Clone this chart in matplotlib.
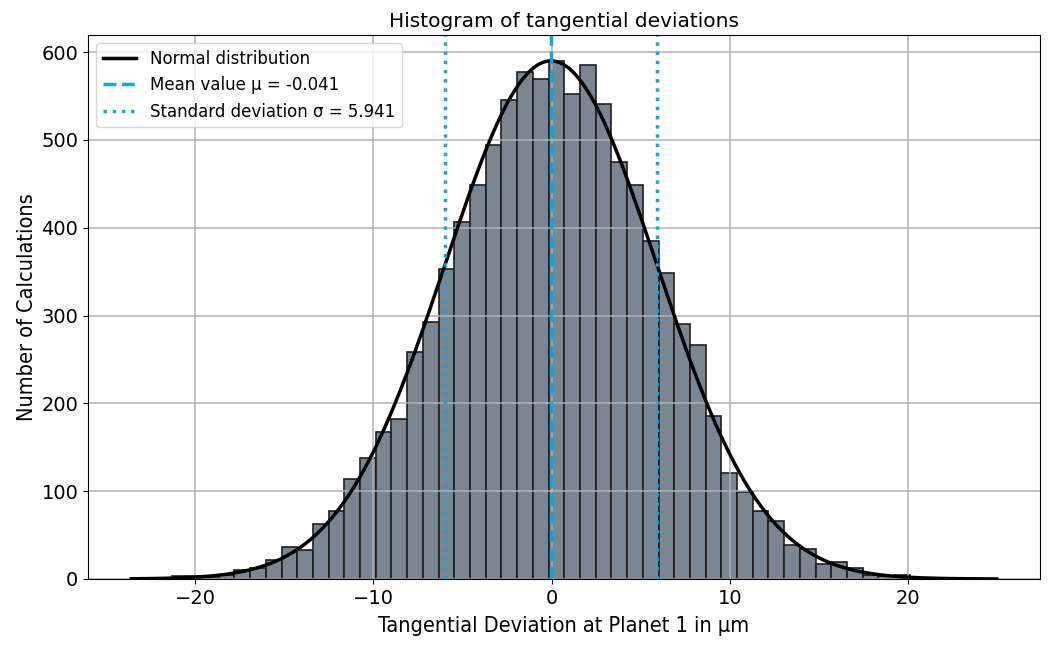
import numpy as np
import matplotlib
matplotlib.use('Agg')
import matplotlib.pyplot as plt

# histogram
bin_first = -21.31
bin_width = 0.8806
counts = [3, 3, 1, 4, 10, 12, 22, 37, 33, 63, 77, 114,
          138, 167, 182, 258, 293, 353, 407, 449, 494, 545, 578, 569,
          590, 552, 585, 541, 475, 449, 385, 349, 290, 266, 186, 121,
          99, 78, 66, 39, 34, 17, 19, 13, 5, 3, 5]

mu = -0.041
sigma = 5.941
curve_range = (-23.57, 24.95)

edges = bin_first + bin_width * np.arange(len(counts) + 1)
n_total = sum(counts)

x = np.linspace(curve_range[0], curve_range[1], 500)
pdf = n_total * bin_width / (sigma * np.sqrt(2 * np.pi)) * np.exp(-0.5 * ((x - mu) / sigma) ** 2)

fig = plt.figure(figsize=(10.49, 6.54), dpi=100)
ax = fig.add_axes([0.0839, 0.1147, 0.9075, 0.8318])

ax.hist(edges[:-1], bins=edges, weights=counts, color='#7a8793',
        edgecolor='#1e1e1e', linewidth=1.2)
ax.plot(x, pdf, color='black', lw=2.5, label='Normal distribution')
ax.axvline(mu, color='#0ea5e9', ls='--', lw=2.5, label='Mean value μ = -0.041')
ax.axvline(mu - sigma, color='#0ea5e9', ls=':', lw=2.5, label='Standard deviation σ = 5.941')
ax.axvline(mu + sigma, color='#0ea5e9', ls=':', lw=2.5)

ax.grid(True, color='#b0b0b0', lw=1.1)
ax.tick_params(labelsize=14)
ax.set_title('Histogram of tangential deviations', fontsize=14.5)
ax.set_xlabel('Tangential Deviation at Planet 1 in µm', fontsize=15.6,
              family='DejaVu Sans', fontstretch='condensed', labelpad=6)
ax.set_ylabel('Number of Calculations', fontsize=15.6,
              family='DejaVu Sans', fontstretch='condensed', labelpad=3)
ax.legend(loc='upper left', fontsize=12)

plt.savefig('out.png')
